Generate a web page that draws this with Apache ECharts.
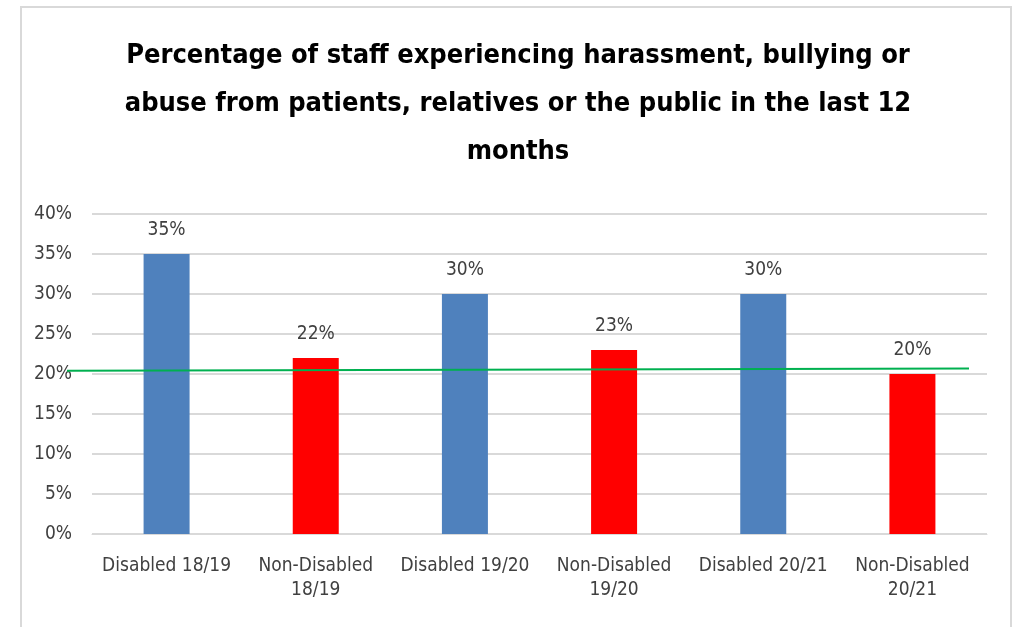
<!DOCTYPE html>
<html>
<head>
<meta charset="utf-8">
<style>
  html, body { margin: 0; padding: 0; background: #ffffff; }
  #chart { width: 1015px; height: 627px; }
</style>
<script src="https://cdn.jsdelivr.net/npm/echarts@6/dist/echarts.min.js"></script>
</head>
<body>
<div id="chart"></div>
<script>
// Survey results by staff group and year (percent)
const categories = [
  'Disabled 18/19', 'Non-Disabled\n18/19',
  'Disabled 19/20', 'Non-Disabled\n19/20',
  'Disabled 20/21', 'Non-Disabled\n20/21'
];
const values = [35, 22, 30, 23, 30, 20];
const barColors = ['#4f81bd', '#ff0000', '#4f81bd', '#ff0000', '#4f81bd', '#ff0000'];
const yTicks = [0, 5, 10, 15, 20, 25, 30, 35, 40];

// Reference line drawn across the chart: start/end (fraction of its span) and percent level
const refLineX = [0, 1];
const refLineY = [20.4, 20.7];

const titleText = 'Percentage of staff experiencing harassment, bullying or\n' +
  'abuse from patients, relatives or the public in the last 12\nmonths';

const narrow = '"DejaVu Sans Condensed", "Liberation Sans", sans-serif';

const chart = echarts.init(document.getElementById('chart'), null, { renderer: 'canvas' });

chart.setOption({
  animation: false,
  backgroundColor: '#ffffff',
  graphic: [{
    type: 'rect',
    shape: { x: 21, y: 7, width: 990, height: 640 },
    style: { fill: 'none', stroke: '#d9d9d9', lineWidth: 2 },
    z: -1
  }],
  title: {
    text: titleText,
    left: 513,
    textAlign: 'center',
    top: 27,
    textStyle: {
      fontFamily: narrow,
      fontWeight: 'bold',
      fontSize: 27,
      lineHeight: 48,
      color: '#000000'
    }
  },
  grid: [
    { left: 92, right: 28, top: 214, bottom: 93 },
    // wider grid holding the reference line, which runs past the plot's left edge
    { left: 67, right: 46, top: 214, bottom: 93 }
  ],
  xAxis: [{
    type: 'category',
    gridIndex: 0,
    data: categories,
    axisLine: { show: true, lineStyle: { color: '#d9d9d9', width: 1 } },
    axisTick: { show: false },
    axisLabel: {
      interval: 0,
      margin: 20,
      fontFamily: narrow,
      fontSize: 19,
      lineHeight: 24,
      color: '#404040'
    }
  }, {
    type: 'value',
    gridIndex: 1,
    min: 0,
    max: 1,
    show: false
  }],
  yAxis: [{
    type: 'value',
    gridIndex: 0,
    min: 0,
    max: 40,
    interval: 5,
    axisLine: { show: false },
    axisTick: { show: false },
    splitLine: { lineStyle: { color: '#d9d9d9', width: 2 } },
    axisLabel: {
      margin: 20,
      fontFamily: narrow,
      fontSize: 19,
      color: '#404040',
      formatter: v => (yTicks.indexOf(v) >= 0 ? v + '%' : '')
    }
  }, {
    type: 'value',
    gridIndex: 1,
    min: 0,
    max: 40,
    show: false
  }],
  series: [{
    type: 'bar',
    xAxisIndex: 0,
    yAxisIndex: 0,
    barWidth: 46,
    data: values.map((v, i) => ({ value: v, itemStyle: { color: barColors[i] } })),
    label: {
      show: true,
      position: 'top',
      distance: 14,
      fontFamily: narrow,
      fontSize: 19,
      color: '#404040',
      formatter: p => p.value + '%'
    }
  }, {
    type: 'line',
    xAxisIndex: 1,
    yAxisIndex: 1,
    symbol: 'none',
    z: 5,
    lineStyle: { color: '#00b050', width: 2 },
    data: refLineX.map((x, i) => [x, refLineY[i]])
  }]
});
</script>
</body>
</html>
